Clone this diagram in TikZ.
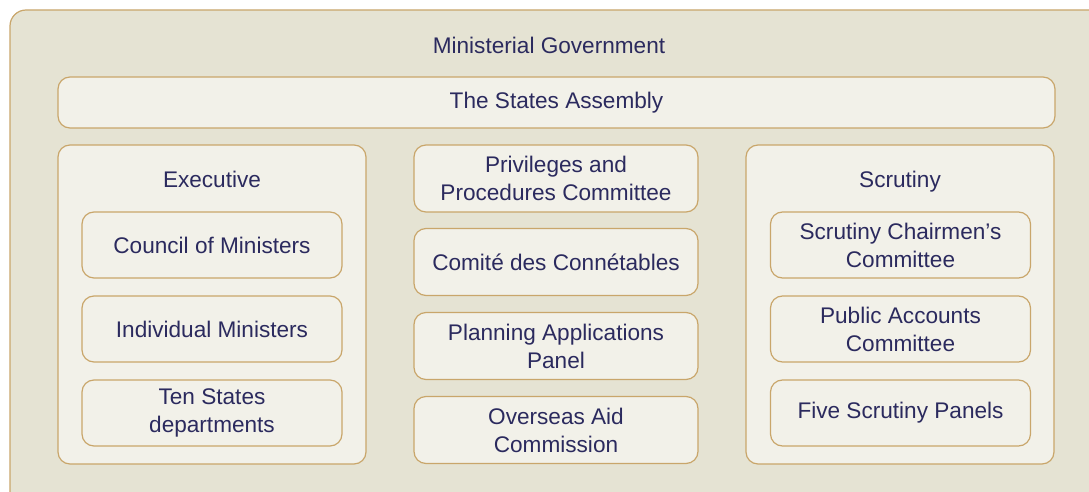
\documentclass[tikz,border=0pt]{standalone}
\usepackage{fontspec}
\setmainfont{Liberation Sans}
\usepackage{tikz}
\usetikzlibrary{positioning}

\definecolor{govfill}{HTML}{E5E3D3}
\definecolor{boxfill}{HTML}{F2F1E9}
\definecolor{boxline}{HTML}{C9A66B}
\definecolor{govtext}{HTML}{2B2A5E}

\begin{document}
\begin{tikzpicture}[x=0.5pt,y=-0.5pt,
    panel/.style={draw=boxline, fill=boxfill, line width=0.6pt, rounded corners=6pt,
      inner sep=0pt, align=center, text=govtext},
    body/.style={panel, minimum width=154pt, minimum height=159.5pt},
    unit/.style={panel, minimum width=130pt, minimum height=33pt},
    midunit/.style={panel, minimum width=142pt, minimum height=33.5pt},
    heading/.style={text=govtext, inner sep=0pt, text height=8.1pt, text depth=0pt}]
   \useasboundingbox (0,0) rectangle (1089,492);
   \begin{scope}[font=\fontsize{11.3}{14}\selectfont]
     % outer frame, runs off the page on the right and bottom
     \draw[draw=boxline, fill=govfill, line width=0.6pt, rounded corners=8pt]
       (10,10) rectangle (1120,520);
     \node[heading] (gov) at (549,45) {Ministerial Government};
     \node[panel, minimum width=498.5pt, minimum height=25.5pt] (assembly) at (556.5,102.5) {The States Assembly};

     % executive
     \node[body] (exec) at (212,304.5) {};
     \node[heading] (execT) at (212,179) {Executive};
     \node[unit] (council) at (212,245) {Council of Ministers};
     \node[unit] (ministers) at (212,329) {Individual Ministers};
     \node[unit] (depts) at (212,413) {Ten States\\departments};

     % committees in the middle
     \node[midunit] (ppc) at (556,178.5) {Privileges and\\Procedures Committee};
     \node[midunit] (comite) at (556,262) {Comité des Connétables};
     \node[midunit] (planning) at (556,346) {Planning Applications\\Panel};
     \node[midunit] (aid) at (556,430) {Overseas Aid\\Commission};

     % scrutiny
     \node[body] (scrut) at (900,304.5) {};
     \node[heading] (scrutT) at (900,179) {Scrutiny};
     \node[unit] (chairmen) at (900.5,245) {Scrutiny Chairmen’s\\Committee};
     \node[unit] (accounts) at (900.5,329) {Public Accounts\\Committee};
     \node[unit] (panels) at (900.5,413) {Five Scrutiny Panels};
   \end{scope}
\end{tikzpicture}
\end{document}
